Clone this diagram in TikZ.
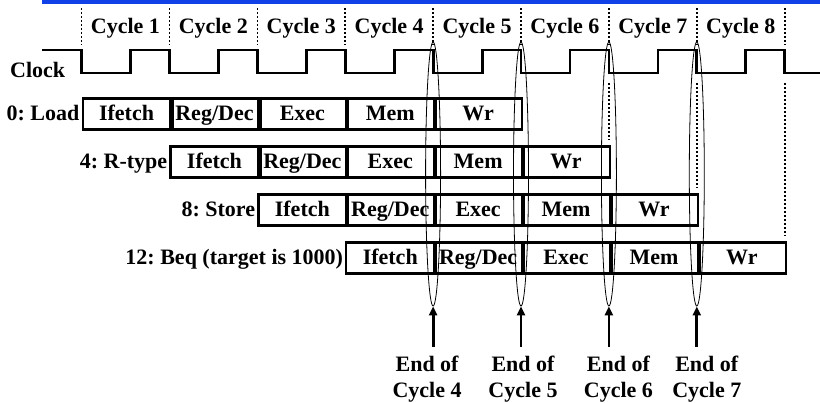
\documentclass[tikz,border=0pt]{standalone}
\usepackage{fontspec}
\setmainfont{Liberation Serif}
\usetikzlibrary{arrows.meta,shapes.geometric}
\definecolor{slideblue}{RGB}{16,64,232}
\newcommand{\cw}{87.9}
\newcommand{\xo}{81.5}

\begin{document}
\begin{tikzpicture}[
  x=1pt,y=-1pt,
  font=\fontsize{22}{26}\selectfont\bfseries\frenchspacing,
  stagebox/.style={draw,line width=2.2pt,minimum width=\cw pt,minimum height=31pt,inner sep=0pt,
    text height=15pt,text depth=1pt,anchor=west},
  rowlabel/.style={anchor=east,inner sep=0pt,text height=15pt,text depth=1pt},
  cyclelabel/.style={inner sep=0pt},
  sepbar/.style={line width=4.5pt},
  cyclegrid/.style={line width=1.6pt,dash pattern=on 2pt off 2pt},
  clk/.style={line width=2.8pt,line join=miter},
  edgeoval/.style={draw,ellipse,line width=0.8pt,minimum width=15pt,minimum height=264pt,inner sep=0pt},
  endarrow/.style={line width=2.8pt,-{Triangle[length=9pt,width=8pt]}},
  endlabel/.style={align=center,anchor=north,inner sep=0pt}
]
  \useasboundingbox (0,0) rectangle (820,403);
  \fill[slideblue] (42,0) rectangle (820,4);

  \foreach \k in {0,...,8}
    \draw[cyclegrid] ({\xo+\k*\cw},8) -- ({\xo+\k*\cw},45);
  \foreach \k in {1,...,8}
    \node[cyclelabel] (cycle-\k) at ({\xo+(\k-0.5)*\cw},28) {Cycle \k};

  \node[anchor=west,inner sep=0pt] (clock) at (10,70) {Clock};
  \draw[clk] (42,50) foreach \k in {0,...,7} {
      -- ({\xo+\k*\cw},50) -- ++(0,23) -- ++(49,0) -- ++(0,-23) }
    -- ({\xo+8*\cw},50) -- ++(0,23) -- (820,73);

  \foreach \k/\ybot in {6/140,7/188,8/236}
    \draw[cyclegrid] ({\xo+\k*\cw},83) -- ({\xo+\k*\cw},\ybot);

  \foreach \r/\name/\txt/\y in {0/load/{0: Load}/114,1/rtype/{4: R-type}/162,2/store/{8: Store}/210,3/beq/{12: Beq (target is 1000)}/258}{
    \node[rowlabel] (\name) at ({\xo+\r*\cw-2},\y) {\txt};
    \foreach \s/\st in {0/Ifetch,1/{Reg/Dec},2/Exec,3/Mem,4/Wr}
      \node[stagebox] (\name-\s) at ({\xo+(\r+\s)*\cw},\y) {\st};
    \foreach \s in {1,...,4}
      \draw[sepbar] ([xshift=2pt]\name-\s.north west) -- ([xshift=2pt]\name-\s.south west);
  }

  \foreach \k in {4,...,7}{
    \node[edgeoval] (edge-\k) at ({\xo+\k*\cw},174) {};
    \coordinate (tail-\k) at ({\xo+\k*\cw},347);
    \draw[endarrow] (tail-\k) -- (edge-\k.south);
  }
  \foreach \k/\dx in {4/-6,5/2,6/9.5,7/10}
    \node[endlabel] (end-\k) at ({\xo+\k*\cw+\dx},356) {End of\\Cycle \k};
\end{tikzpicture}
\end{document}
